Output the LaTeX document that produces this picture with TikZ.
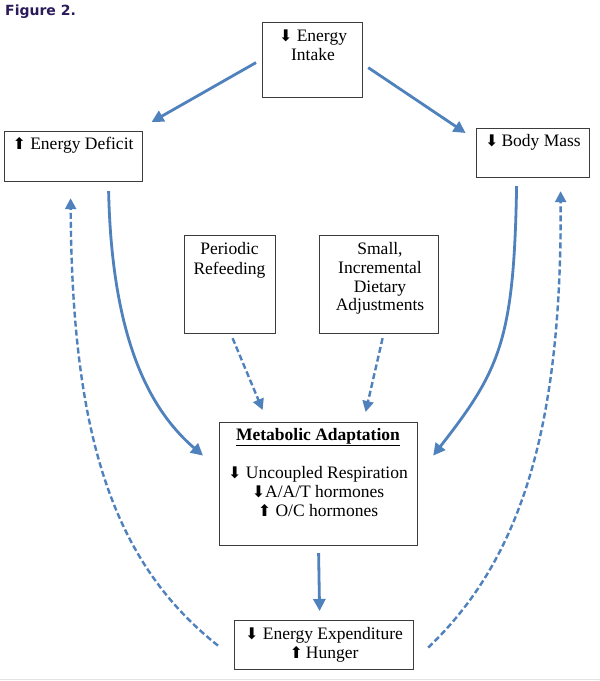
\documentclass[tikz,border=0pt]{standalone}
\usepackage{fontspec}
\setmainfont{Liberation Serif}
\newfontfamily\arrfont{DejaVu Sans}
\newfontfamily\titlefont{DejaVu Sans}
\usetikzlibrary{arrows.meta,calc}
\definecolor{arrblue}{RGB}{79,129,189}
\definecolor{boxgray}{RGB}{60,60,60}
\definecolor{titlepurple}{RGB}{43,27,90}
\newcommand{\arrdn}{{\arrfont\fontsize{16}{16}\selectfont ⬇}}
\newcommand{\arrup}{{\arrfont\fontsize{16}{16}\selectfont ⬆}}
\tikzset{
  boxframe/.style={draw=boxgray, line width=1.2pt, inner sep=0pt, anchor=north west},
  txt/.style={font=\fontsize{17.5}{19}\selectfont, inner sep=0pt, anchor=mid},
  conn/.style={draw=arrblue, line width=2.8pt, -{Triangle[length=12pt,width=12pt]}},
  dconn/.style={draw=arrblue, line width=2.4pt, dash pattern=on 6pt off 3pt, -{Triangle[length=11pt,width=11pt]}}
}
\begin{document}
\begin{tikzpicture}[x=1pt,y=-1pt]
\fill[white] (0,0) rectangle (600,681);
\useasboundingbox (0,0) rectangle (600,681);
\draw[gray!22, line width=1pt] (0,679) -- (600,679);

\node[anchor=north west, inner sep=0pt, font=\titlefont\bfseries\fontsize{14}{16}\selectfont, text=titlepurple] (title) at (5,5) {Figure 2.};

% boxes
\node[boxframe, minimum width=100pt, minimum height=75pt] (ei) at (262,22) {};
\node[txt] (eit1) at (313,39) {\arrdn\ Energy};
\node[txt] (eit2) at (313,58) {Intake};

\node[boxframe, minimum width=138pt, minimum height=50pt] (ed) at (4,131) {};
\node[txt] (edt) at (73,147) {\arrup\ Energy Deficit};

\node[boxframe, minimum width=113pt, minimum height=49pt] (bm) at (476,128) {};
\node[txt] (bmt) at (533,144) {\arrdn\,Body Mass};

\node[boxframe, minimum width=91pt, minimum height=98pt] (pr) at (184,235) {};
\node[txt] (prt1) at (229.5,252) {Periodic};
\node[txt] (prt2) at (229.5,272) {Refeeding};

\node[boxframe, minimum width=119pt, minimum height=98pt] (sm) at (319,235) {};
\node[txt] (smt1) at (380,252) {Small,};
\node[txt] (smt2) at (380,271) {Incremental};
\node[txt] (smt3) at (380,290) {Dietary};
\node[txt] (smt4) at (380,308) {Adjustments};

\node[boxframe, minimum width=198pt, minimum height=123pt] (ma) at (219,422) {};
\node[txt] (mat1) at (318,438) {\bfseries\underline{Metabolic Adaptation}};
\node[txt] (mat2) at (318,476) {\arrdn\ Uncoupled Respiration};
\node[txt] (mat3) at (318,495) {\arrdn A/A/T hormones};
\node[txt] (mat4) at (318,514) {\arrup\ O/C hormones};

\node[boxframe, minimum width=179pt, minimum height=49pt] (ee) at (234,620) {};
\node[txt] (eet1) at (324,637) {\arrdn\ Energy Expenditure};
\node[txt] (eet2) at (324,656) {\arrup\,Hunger};

% connectors
\draw[conn] ($(ei.west)+(-6,2.5)$) -- ($(ed.north)+(78,-9)$);
\draw[conn] ($(ei.east)+(5,7.5)$) -- ($(bm.north)+(-67.5,5)$);

\draw[conn] ($(ed.south)+(35,9)$) .. controls (112,340) and (150,410) .. ($(ma.west)+(-16,-28.5)$);
\draw[conn] ($(bm.south)+(-16.5,8)$) .. controls (514,340) and (500,370) .. ($(ma.east)+(15,-28.5)$);

\draw[dconn] ($(pr.south)+(2.5,4)$) -- ($(ma.north)+(-56,-12)$);
\draw[dconn] ($(sm.south)+(3.5,4)$) -- ($(ma.north)+(47,-10)$);

\draw[conn] ($(ma.south)+(0,7)$) -- ($(ee.north)+(-4.5,-9)$);

\draw[dconn] ($(ee.west)+(-16,0.5)$) .. controls (110,560) and (72,430) .. ($(ed.south)+(-3,16)$);
\draw[dconn] ($(ee.east)+(14,2.5)$) .. controls (520,560) and (562,430) .. ($(bm.south)+(27.5,13)$);
\end{tikzpicture}
\end{document}
